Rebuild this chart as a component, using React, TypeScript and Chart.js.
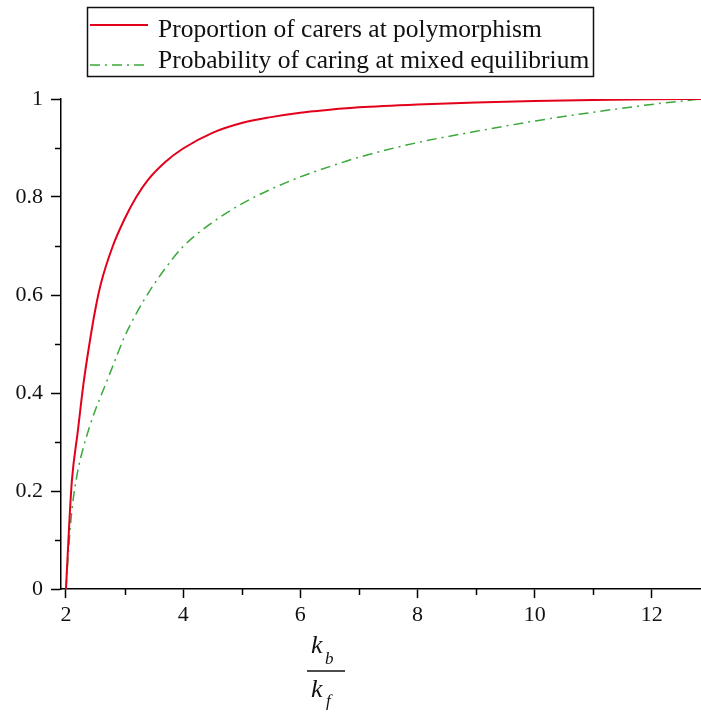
import React, { useEffect, useRef } from "react";
import { Chart, registerables } from "chart.js";

Chart.register(...registerables);

// ---- data ----
const ratioValues = [2.0, 2.05, 2.1, 2.2, 2.3, 2.4, 2.5, 2.6, 2.8, 3.0, 3.2, 3.4, 3.7, 4.0, 4.5, 5.0, 5.5, 6.0, 6.5, 7.0, 8.0, 9.0, 10.0, 11.0, 12.0, 12.84];
const carersAtPolymorphism = [0, 0.12, 0.22, 0.32, 0.42, 0.5, 0.57, 0.625, 0.7, 0.755, 0.8, 0.835, 0.872, 0.899, 0.931, 0.951, 0.963, 0.972, 0.978, 0.983, 0.989, 0.993, 0.996, 0.998, 0.9995, 1.0];
const caringAtMixedEquilibrium = [0, 0.09, 0.16, 0.24, 0.29, 0.33, 0.365, 0.395, 0.455, 0.515, 0.562, 0.603, 0.655, 0.699, 0.748, 0.786, 0.816, 0.841, 0.862, 0.881, 0.911, 0.934, 0.955, 0.973, 0.989, 1.0];

const seriesLabels = ["Proportion of carers at polymorphism", "Probability of caring at mixed equilibrium"];
const xTickValues = [2, 3, 4, 5, 6, 7, 8, 9, 10, 11, 12];
const yTickValues = [0, 0.1, 0.2, 0.3, 0.4, 0.5, 0.6, 0.7, 0.8, 0.9, 1];
const X_MIN = 1.915;
const X_MAX = 12.84;

const RED = "#e3001b";
const GREEN = "#3aa83a";
const SERIF = '"Liberation Serif", "DejaVu Serif", serif';

const isMajorX = (v: number) => Math.round(v) % 2 === 0;
const isMajorY = (v: number) => Math.round(v * 10) % 2 === 0;

const decorPlugin = {
  id: "decor",
  afterDraw(chart: any) {
    const ctx = chart.ctx as CanvasRenderingContext2D;
    const xs = chart.scales.x;
    const ys = chart.scales.y;
    const area = chart.chartArea;
    ctx.save();
    // minor ticks
    ctx.strokeStyle = "#000";
    ctx.lineWidth = 1.5;
    xTickValues.forEach((v) => {
      if (!isMajorX(v)) {
        const px = Math.round(xs.getPixelForValue(v)) + 0.5;
        ctx.beginPath();
        ctx.moveTo(px, area.bottom);
        ctx.lineTo(px, area.bottom + 6);
        ctx.stroke();
      }
    });
    yTickValues.forEach((v) => {
      if (!isMajorY(v)) {
        const py = Math.round(ys.getPixelForValue(v)) + 0.5;
        ctx.beginPath();
        ctx.moveTo(area.left, py);
        ctx.lineTo(area.left - 6, py);
        ctx.stroke();
      }
    });

    // legend box
    const boxL = 87, boxT = 7, boxR = 593, boxB = 76;
    ctx.lineWidth = 1.5;
    ctx.strokeStyle = "#111";
    ctx.strokeRect(boxL + 0.5, boxT + 0.5, boxR - boxL, boxB - boxT);
    const rows = [
      { label: seriesLabels[0], color: RED, dash: [] as number[], lineY: 25, baseY: 37, width: 2 },
      { label: seriesLabels[1], color: GREEN, dash: [10, 5, 2, 5], lineY: 65, baseY: 68, width: 1.5 },
    ];
    rows.forEach((r) => {
      ctx.beginPath();
      ctx.setLineDash(r.dash);
      ctx.strokeStyle = r.color;
      ctx.lineWidth = r.width;
      ctx.moveTo(boxL + 3, r.lineY);
      ctx.lineTo(148, r.lineY);
      ctx.stroke();
      ctx.setLineDash([]);
      ctx.fillStyle = "#111";
      ctx.font = `25.5px ${SERIF}`;
      ctx.textAlign = "left";
      ctx.textBaseline = "alphabetic";
      ctx.fillText(r.label, 158, r.baseY);
    });

    // x axis title: k_b / k_f
    ctx.fillStyle = "#111";
    ctx.textBaseline = "alphabetic";
    ctx.font = `italic 26px ${SERIF}`;
    ctx.fillText("k", 311, 653);
    ctx.fillText("k", 311, 697);
    ctx.font = `italic 17px ${SERIF}`;
    ctx.fillText("b", 325, 664);
    ctx.fillText("f", 326, 706);
    ctx.strokeStyle = "#111";
    ctx.lineWidth = 1.5;
    ctx.beginPath();
    ctx.moveTo(307, 671);
    ctx.lineTo(345, 671);
    ctx.stroke();
    ctx.restore();
  },
};

export default function App() {
  const canvasRef = useRef<HTMLCanvasElement | null>(null);

  useEffect(() => {
    const canvas = canvasRef.current;
    if (!canvas) return;
    const chart = new Chart(canvas, {
      type: "line",
      data: {
        datasets: [
          {
            label: seriesLabels[0],
            data: ratioValues.map((x, i) => ({ x, y: carersAtPolymorphism[i] })),
            borderColor: RED,
            borderWidth: 2,
            pointRadius: 0,
            fill: false,
            cubicInterpolationMode: "monotone",
          },
          {
            label: seriesLabels[1],
            data: ratioValues.map((x, i) => ({ x, y: caringAtMixedEquilibrium[i] })),
            borderColor: GREEN,
            borderWidth: 1.5,
            borderDash: [10, 5, 2, 5],
            pointRadius: 0,
            fill: false,
            cubicInterpolationMode: "monotone",
          },
        ],
      },
      options: {
        animation: false,
        responsive: false,
        devicePixelRatio: 1,
        layout: { padding: { top: 99, left: 0, right: 0, bottom: 0 } },
        plugins: { legend: { display: false }, tooltip: { enabled: false } },
        scales: {
          x: {
            type: "linear",
            min: X_MIN,
            max: X_MAX,
            afterBuildTicks: (scale: any) => {
              scale.ticks = xTickValues.map((v) => ({ value: v }));
            },
            afterFit: (scale: any) => {
              scale.height = 124;
            },
            border: { display: true, color: "#000", width: 1.5 },
            grid: {
              display: true,
              drawOnChartArea: false,
              drawTicks: true,
              tickLength: 9,
              tickWidth: 1.5,
              tickColor: (c: any) => (c.tick && isMajorX(c.tick.value) ? "#000" : "rgba(0,0,0,0)"),
            },
            ticks: {
              autoSkip: false,
              maxRotation: 0,
              padding: 4,
              color: "#111",
              font: { family: SERIF, size: 22 },
              callback: (v: any) => (isMajorX(Number(v)) ? String(v) : ""),
            },
          },
          y: {
            type: "linear",
            min: 0,
            max: 1,
            afterBuildTicks: (scale: any) => {
              scale.ticks = yTickValues.map((v) => ({ value: v }));
            },
            afterFit: (scale: any) => {
              scale.width = 61;
            },
            border: { display: true, color: "#000", width: 1.5 },
            grid: {
              display: true,
              drawOnChartArea: false,
              drawTicks: true,
              tickLength: 10,
              tickWidth: 1.5,
              tickColor: (c: any) => (c.tick && isMajorY(c.tick.value) ? "#000" : "rgba(0,0,0,0)"),
            },
            ticks: {
              autoSkip: false,
              padding: 8,
              color: "#111",
              font: { family: SERIF, size: 22 },
              callback: (v: any) => {
                const n = Number(v);
                if (!isMajorY(n)) return "";
                return String(Math.round(n * 10) / 10);
              },
            },
          },
        },
      },
      plugins: [decorPlugin],
    });
    return () => chart.destroy();
  }, []);

  return (
    <div style={{ position: "fixed", left: 0, top: 0, width: 701, height: 713, background: "#fff" }}>
      <canvas ref={canvasRef} width={701} height={713} style={{ display: "block" }} />
    </div>
  );
}
